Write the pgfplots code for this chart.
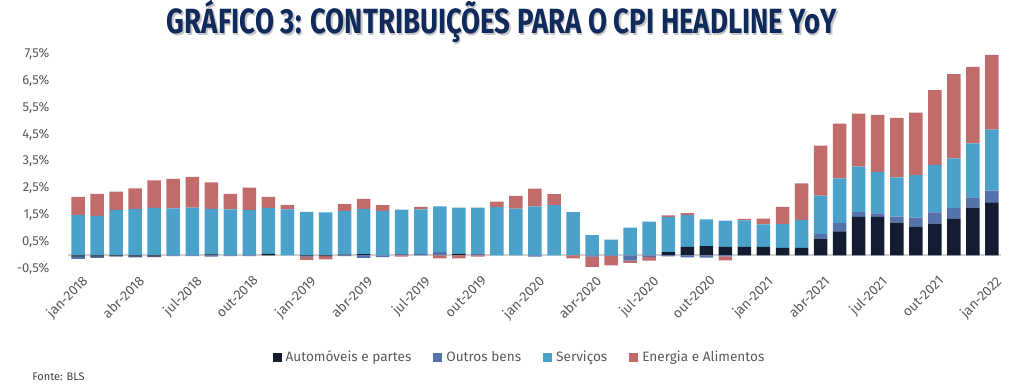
\documentclass[border=0pt]{standalone}
\usepackage{pgfplots}
\pgfplotsset{compat=1.18}
\usepackage{pgfplotstable}
\usepackage{fontspec}
\setmainfont{Fira Sans}
\usepackage{graphicx}

\definecolor{cauto}{HTML}{131C30}
\definecolor{cother}{HTML}{5572AA}
\definecolor{cserv}{HTML}{4AA2CA}
\definecolor{cenergy}{HTML}{C16B6B}
\definecolor{textgray}{HTML}{5A5A5A}
\definecolor{titlenavy}{HTML}{102A5C}

% i: month index from jan-2018; ap/an: Automoveis (+/-), op/on: Outros bens (+/-), s: Servicos, ep/en: Energia e Alimentos (+/-)
\pgfplotstableread{
i ap an op on s ep en
0 0 -0.05 0 -0.08 1.50 0.68 0
1 0 -0.05 0 -0.05 1.47 0.82 0
2 0 -0.02 0 -0.03 1.69 0.68 0
3 0 -0.05 0 -0.03 1.73 0.76 0
4 0 -0.05 0 -0.02 1.77 1.02 0
5 0 0 0 -0.03 1.75 1.10 0
6 0 0 0 -0.03 1.78 1.14 0
7 0.03 0 0 -0.05 1.70 0.99 0
8 0 0 0 -0.03 1.71 0.58 0
9 0 0 0 -0.03 1.69 0.83 0
10 0.05 0 0 0 1.72 0.41 0
11 0 0 0 0 1.71 0.17 0
12 0 -0.03 0 -0.02 1.62 0 -0.12
13 0 -0.03 0 0 1.60 0 -0.12
14 0.02 0 0 -0.03 1.63 0.26 0
15 0.04 0 0 -0.10 1.69 0.37 0
16 0 0 0 -0.07 1.65 0.22 0
17 0 0 0.04 0 1.66 0 -0.05
18 0 0 0.05 0 1.66 0.09 0
19 0 0 0.12 0 1.70 0 -0.12
20 0.05 0 0 0 1.73 0 -0.12
21 0 0 0.04 0 1.74 0 -0.05
22 0 0 0 0 1.79 0.21 0
23 0 0 0 0 1.74 0.47 0
24 0 0 0 -0.05 1.82 0.66 0
25 0 0 0 0 1.87 0.41 0
26 0 0 0 0 1.61 0 -0.12
27 0 0 0 -0.05 0.75 0 -0.38
28 0 0 0 -0.03 0.58 0 -0.35
29 0 0 0 -0.20 1.03 0 -0.08
30 0 0 0 -0.06 1.25 0 -0.14
31 0.12 0 0 -0.04 1.30 0.07 0
32 0.31 0 0 -0.08 1.19 0.07 0
33 0.34 0 0 -0.09 1.00 0 0
34 0.31 0 0 -0.04 0.98 0 -0.15
35 0.31 0 0 0 0.99 0.06 0
36 0.31 0 0 0 0.84 0.22 0
37 0.28 0 0 0 0.88 0.64 0
38 0.28 0 0 0 1.04 1.36 0
39 0.62 0 0.18 0 1.42 1.87 0
40 0.89 0 0.32 0 1.66 2.04 0
41 1.43 0 0.18 0 1.70 1.97 0
42 1.43 0 0.13 0 1.55 2.12 0
43 1.22 0 0.22 0 1.46 2.22 0
44 1.06 0 0.34 0 1.59 2.33 0
45 1.18 0 0.42 0 1.77 2.78 0
46 1.36 0 0.40 0 1.85 3.14 0
47 1.78 0 0.38 0 2.01 2.85 0
48 1.97 0 0.44 0 2.27 2.79 0
}\data

\begin{document}
\begin{tikzpicture}
\path[use as bounding box] (0,0) rectangle (512pt,195pt);
\pgfplotsset{
  base/.style={
    scale only axis, width=466.5pt, height=107.35pt,
    at={(34.25pt,60.65pt)}, anchor=south west,
    xmin=-0.5, xmax=48.5, ymin=-0.5, ymax=7.5,
    ybar stacked, bar width=6.75pt,
    axis line style={draw=none}, major tick style={draw=none},
    clip=false,
  },
  sq/.style={legend image code/.code={\fill[##1] (0pt,-2.2pt) rectangle (4.5pt,2.3pt);}},
}

\node[anchor=base, text=black!22, inner sep=0] at (251.7pt,177.3pt)
  {\resizebox{335pt}{\height}{\fontsize{17.5}{18}\selectfont\bfseries GRÁFICO 3: CONTRIBUIÇÕES PARA O CPI HEADLINE YoY}};
\node[anchor=base, text=titlenavy, inner sep=0] at (251pt,178pt)
  {\resizebox{335pt}{\height}{\fontsize{17.5}{18}\selectfont\bfseries GRÁFICO 3: CONTRIBUIÇÕES PARA O CPI HEADLINE YoY}};

\begin{axis}[base,
  ytick={-0.5,0.5,1.5,2.5,3.5,4.5,5.5,6.5,7.5},
  yticklabels={{-0,5\%},{0,5\%},{1,5\%},{2,5\%},{3,5\%},{4,5\%},{5,5\%},{6,5\%},{7,5\%}},
  xtick={0,3,...,48},
  xticklabels={jan-2018,abr-2018,jul-2018,out-2018,jan-2019,abr-2019,jul-2019,out-2019,jan-2020,abr-2020,jul-2020,out-2020,jan-2021,abr-2021,jul-2021,out-2021,jan-2022},
  x tick label style={rotate=45, anchor=north east, font=\fontsize{6.8}{7.5}\selectfont, text=textgray, yshift=-2pt, inner sep=1pt},
  y tick label style={font=\fontsize{6.5}{7}\selectfont, text=textgray, xshift=-6pt},
  extra y ticks={0}, extra y tick labels={},
  extra y tick style={grid=major, major grid style={draw=black!18, line width=0.9pt}},
  legend columns=4,
  legend style={draw=none, fill=none, at={(0.4845,-0.416)}, anchor=center,
    font=\fontsize{6.8}{7.5}\selectfont, text=textgray,
    /tikz/every even column/.append style={column sep=9pt}},
]
\addplot[fill=cauto, draw=none, sq] table[x=i, y=ap]{\data};
\addlegendentry{Automóveis e partes}
\addplot[fill=cother, draw=none, sq] table[x=i, y=op]{\data};
\addlegendentry{Outros bens}
\addplot[fill=cserv, draw=none, sq] table[x=i, y=s]{\data};
\addlegendentry{Serviços}
\addplot[fill=cenergy, draw=none, sq] table[x=i, y=ep]{\data};
\addlegendentry{Energia e Alimentos}
\end{axis}

\begin{axis}[base, hide axis]
\addplot[fill=cauto, draw=none] table[x=i, y=an]{\data};
\addplot[fill=cother, draw=none] table[x=i, y=on]{\data};
\addplot[fill=cenergy, draw=none] table[x=i, y=en]{\data};
\end{axis}

\node[anchor=base west, text=black!75, inner sep=0] at (16pt,4.5pt) {\fontsize{5.5}{6}\selectfont Fonte: BLS};
\end{tikzpicture}
\end{document}
